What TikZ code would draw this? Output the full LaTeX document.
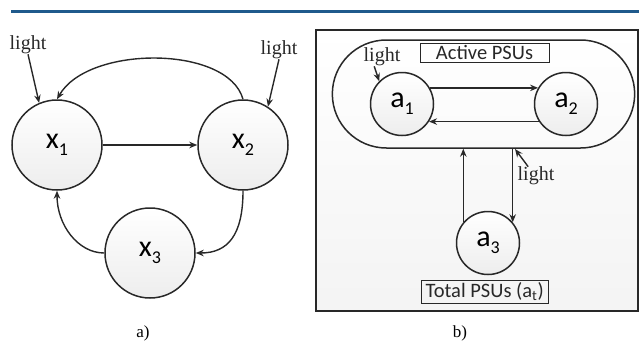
\documentclass[tikz,border=0pt]{standalone}
\usepackage{fontspec}
\setmainfont{Liberation Serif}
\newfontfamily\calfont{Carlito}
\usetikzlibrary{arrows.meta,shapes.misc}
\definecolor{rulecol}{RGB}{31,90,140}
\definecolor{ink}{RGB}{40,40,40}
\newcommand{\idx}[1]{\raisebox{-.22em}{\fontsize{18}{18}\selectfont #1}}
\tikzset{
  state/.style={circle,draw=ink,line width=1.5pt,inner sep=0pt,
    top color=white,bottom color=gray!14,font=\calfont\fontsize{30}{32}\selectfont},
  bigstate/.style={state,minimum size=90pt},
  smallstate/.style={state,minimum size=63pt},
  lightlbl/.style={inner sep=0pt,text=ink,font=\fontsize{20}{22}\selectfont},
  titlebox/.style={draw=ink,line width=1pt,inner sep=0pt,text=ink,
    font=\calfont\fontsize{20.5}{22}\selectfont},
  caption/.style={inner sep=0pt,font=\fontsize{17}{19}\selectfont}
}
\begin{document}
\begin{tikzpicture}[x=1pt,y=-1pt,>={Stealth[length=8pt,width=6.5pt]}]
  \useasboundingbox (0,0) rectangle (639,340);
  \draw[rulecol,line width=3pt] (11,11.5) -- (639,11.5);

  \node[bigstate] (x1) at (57,145) {x\idx{1}};
  \node[bigstate] (x2) at (243,145) {x\idx{2}};
  \node[bigstate] (x3) at (150,253) {x\idx{3}};
  \node[lightlbl] (l1) at (28,45) {light};
  \node[lightlbl] (l2) at (279,50) {light};
  \node[caption] (capa) at (143,333) {a)};
  \begin{scope}[->,draw=ink,line width=1.4pt]
    \draw (x1) -- (x2);
    \draw (x2.north) .. controls (228,45) and (88,45) .. (x1.north);
    \draw (x2.south) .. controls (243,235) and (228,253) .. (x3.east);
    \draw (x3.west) .. controls (78,253) and (57,225) .. (x1.south);
    \draw (l1.south) -- (x1.113);
    \draw (l2.south) -- (x2.57);
  \end{scope}

  \draw[draw=ink,line width=1.5pt,top color=white,bottom color=gray!9]
    (316,30) rectangle (638,311);
  \node[rounded rectangle,draw=ink,line width=1.5pt,minimum width=309pt,
    minimum height=108pt] (active) at (483.5,94) {};
  \node[titlebox,fill=white,minimum width=129pt,minimum height=19pt]
    (activelbl) at (484.5,52.5) {Active PSUs};
  \node[titlebox,minimum width=127pt,minimum height=23pt]
    (totallbl) at (484.7,291.5) {Total PSUs (a\textsubscript{t})};
  \node[smallstate] (a1) at (402,104) {a\idx{1}};
  \node[smallstate] (a2) at (566,104) {a\idx{2}};
  \node[smallstate] (a3) at (488,243) {a\idx{3}};
  \node[lightlbl] (l3) at (382,57) {light};
  \node[lightlbl] (l4) at (536,176) {light};
  \coordinate (hit) at (515,149);
  \node[caption] (capb) at (460,333) {b)};
  \begin{scope}[->,draw=ink,line width=1.4pt]
    \draw (a1.30) -- (a2.150);
    \draw (a2.213) -- (a1.-33);
    \draw (a3.140) -- (a3.140 |- active.south);
    \draw (a3.40 |- active.south) -- (a3.40);
    \draw (l3.230) -- (a1.135);
    \draw (l4.130) -- (hit);
  \end{scope}
\end{tikzpicture}
\end{document}
